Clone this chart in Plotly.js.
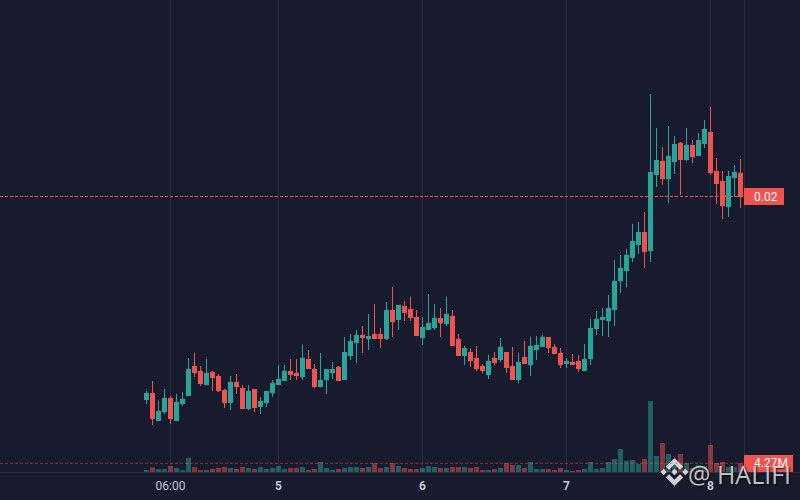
<!DOCTYPE html>
<html>
<head>
<meta charset="utf-8">
<script src="https://cdn.plot.ly/plotly-3.0.1.min.js"></script>
<style>html,body{margin:0;padding:0;background:#181a2d;overflow:hidden}#chart{width:800px;height:500px}
.boxlayer path{shape-rendering:crispEdges;transform:translateX(-0.5px)}</style>
</head>
<body>
<div id="chart"></div>
<script>
// Hourly candles; prices are expressed in ticks of 0.00005
const priceTick = 0.00005;
const firstCandle = Date.UTC(2024, 0, 4, 2);
const openTicks = [197,203,176,185,198,176,193,201,230,225,212,224,220,206,194,214,208,188,207,190,194,204,212,216,225,223,220,237,227,210,217,224,229,217,241,254,261,258,262,262,258,286,277,290,287,279,259,267,269,278,273,280,257,241,244,238,230,222,238,237,244,230,217,239,232,247,250,259,249,243,233,234,235,226,238,268,277,276,287,316,326,339,352,364,346,422,435,418,435,453,437,451,441,453,464,425,415,390,419,423];
const highTicks = [205,215,195,207,200,202,204,238,243,230,237,225,222,207,220,222,211,211,207,199,205,216,231,231,237,237,251,246,232,243,227,234,230,259,262,266,270,282,292,268,294,309,291,295,299,286,279,302,292,288,299,286,262,250,247,250,232,241,244,258,244,249,243,255,259,260,261,259,252,248,238,242,241,252,277,285,288,301,336,341,347,372,374,384,502,468,449,470,460,454,468,456,463,476,489,438,425,425,431,437];
const lowTicks = [192,171,176,182,172,176,190,201,219,210,212,205,204,188,186,202,188,186,184,182,189,199,211,216,216,216,216,228,208,210,202,217,216,217,236,233,243,246,258,248,256,259,266,275,275,260,251,267,266,259,270,251,240,231,229,225,223,217,231,234,223,217,213,233,220,236,249,243,243,228,228,232,224,226,231,261,260,259,270,303,309,334,342,328,334,409,411,393,422,401,435,433,441,448,421,392,377,379,399,388];
const closeTicks = [203,178,185,198,178,194,197,227,224,213,223,219,206,194,214,210,188,205,189,195,205,213,217,225,222,221,238,228,210,216,227,227,216,244,255,261,259,260,258,258,286,275,291,284,279,261,269,273,278,274,282,251,241,248,236,228,226,235,234,249,229,217,234,233,250,251,259,249,243,232,235,232,228,237,268,277,279,288,315,328,341,355,364,345,424,436,418,440,452,437,451,440,456,467,424,413,391,420,424,399.5];
const volumesM = [0.98,2.3,1.47,1.47,2.95,1.96,0.98,6.87,2.45,0.98,0.98,1.47,1.96,2.45,1.96,1.47,2.45,1.96,1.47,2.45,1.47,1.96,2.95,1.47,1.96,1.96,2.45,0.98,1.47,4.91,1.96,0.98,1.47,1.96,2.45,2.45,1.96,2.45,4.42,1.96,2.45,4.42,2.95,1.96,1.47,1.47,1.96,2.95,2.45,1.96,1.96,2.45,2.45,2.45,1.96,2.45,0.98,0.98,1.47,1.96,4.42,3.44,3.44,1.96,4.91,1.47,1.47,1.47,0.98,1.96,0.98,0.49,0.98,1.47,4.91,1.47,1.96,4.91,6.38,11.3,5.4,5.89,3.93,6.38,34.8,7.85,14.2,8.83,4.91,8.83,4.42,1.96,3.44,2.95,13.25,4.42,4.91,2.45,2.45,4.27];
const tickDates = ['2024-01-04 06:00','2024-01-05 00:00','2024-01-06 00:00','2024-01-07 00:00','2024-01-08 00:00','2024-01-08 05:40'];
const tickLabels = ['06:00','<b>5</b>','<b>6</b>','<b>7</b>','<b>8</b>',''];
const lastPriceLabel = '0.02';
const lastVolumeLabel = '4.27M';
const watermarkText = '@ HALIFI';

const upColor = '#26a69a', downColor = '#ef5350', bg = '#181a2d', gridColor = '#2b2d3e';
const times = openTicks.map((_, i) => new Date(firstCandle + i * 3600000).toISOString());
const lastClose = closeTicks[closeTicks.length - 1];
const lastVolume = volumesM[volumesM.length - 1];
const pxX = p => p / 800, pxY = p => (472 - p) / 472;

const logoPath = 'M38.73 53.2 63.3 28.63l24.59 24.59 14.3-14.3L63.3 0 24.42 38.89zM0 63.31l14.3-14.3 14.3 14.3-14.3 14.3zm38.73 10.1L63.3 97.98l24.59-24.59 14.31 14.29-.01.01L63.3 126.61 24.42 87.73l-.02-.02zM97.99 63.31l14.3-14.3 14.31 14.3-14.3 14.3zM77.83 63.3 63.3 48.77 52.56 59.51l-1.24 1.23-2.54 2.54 14.52 14.53 14.53-14.51z';
const logoSvg = `<svg xmlns="http://www.w3.org/2000/svg" viewBox="0 0 126.61 126.61"><path fill="#e6e6e6" d="${logoPath}"/></svg>`;

const traces = [
  { type: 'bar', x: times, y: volumesM, xaxis: 'x', yaxis: 'y', width: 3000000,
    marker: { color: openTicks.map((o, i) => closeTicks[i] >= o ? 'rgba(38,166,154,0.5)' : 'rgba(239,83,80,0.5)'), line: { width: 0 } },
    hoverinfo: 'skip' },
  { type: 'candlestick', x: times, open: openTicks, high: highTicks, low: lowTicks, close: closeTicks,
    xaxis: 'x', yaxis: 'y2', whiskerwidth: 0,
    increasing: { line: { color: upColor, width: 1 }, fillcolor: upColor },
    decreasing: { line: { color: downColor, width: 1 }, fillcolor: downColor },
    hoverinfo: 'skip' }
];

const layout = {
  width: 800, height: 500, margin: { l: 0, r: 0, t: 0, b: 28, pad: 0 },
  paper_bgcolor: bg, plot_bgcolor: bg, showlegend: false, hovermode: false, boxgap: 0.3333, boxgroupgap: 0,
  font: { family: 'Roboto, sans-serif', size: 12, color: '#c4c7d0' },
  xaxis: { type: 'date', range: ['2024-01-03 01:35', '2024-01-08 14:55'], rangeslider: { visible: false },
    tickmode: 'array', tickvals: tickDates, ticktext: tickLabels, showgrid: true, gridcolor: gridColor, gridwidth: 1,
    zeroline: false, showline: true, linecolor: gridColor, linewidth: 1, ticks: 'outside', ticklen: 3, tickcolor: 'rgba(0,0,0,0)',
    tickfont: { family: 'Roboto, sans-serif', size: 12, color: '#c4c7d0' }, fixedrange: true },
  yaxis: { range: [0, 231.7], visible: false, showgrid: false, zeroline: false, fixedrange: true },
  yaxis2: { range: [124, 596], overlaying: 'y', visible: false, showgrid: false, zeroline: false, fixedrange: true },
  shapes: [
    { type: 'line', layer: 'above', xref: 'paper', x0: 0, x1: pxX(744), yref: 'y2', y0: lastClose, y1: lastClose,
      line: { color: downColor, width: 1, dash: '3px,2px' } },
    { type: 'line', layer: 'above', xref: 'paper', x0: 0, x1: pxX(744), yref: 'y', y0: lastVolume, y1: lastVolume,
      line: { color: 'rgba(239,83,80,0.5)', width: 1, dash: '3px,2px' } },
    { type: 'rect', layer: 'above', xref: 'paper', yref: 'paper', x0: pxX(744), x1: pxX(784), y0: pxY(188), y1: pxY(205),
      fillcolor: downColor, line: { width: 0 } },
    { type: 'rect', layer: 'above', xref: 'paper', yref: 'paper', x0: pxX(744), x1: pxX(793), y0: pxY(455), y1: pxY(472),
      fillcolor: downColor, line: { width: 0 } }
  ],
  images: [
    { source: 'data:image/svg+xml;utf8,' + encodeURIComponent(logoSvg), xref: 'paper', yref: 'paper',
      x: pxX(660.5), y: pxY(458), sizex: 28 / 800, sizey: 28 / 472, xanchor: 'left', yanchor: 'top', sizing: 'stretch', opacity: 0.9, layer: 'above' }
  ],
  annotations: [
    { text: lastPriceLabel, xref: 'paper', yref: 'y2', x: pxX(766), y: lastClose, xanchor: 'center', yanchor: 'middle',
      showarrow: false, font: { color: '#fff', size: 12, family: 'Roboto, sans-serif' } },
    { text: lastVolumeLabel, xref: 'paper', yref: 'y', x: pxX(771), y: lastVolume, xanchor: 'center', yanchor: 'middle',
      showarrow: false, font: { color: '#fff', size: 12, family: 'Roboto, sans-serif' } },
    { text: watermarkText, xref: 'paper', yref: 'paper', x: pxX(793), y: pxY(474), xanchor: 'right', yanchor: 'middle',
      showarrow: false, font: { color: 'rgba(225,225,225,0.85)', size: 25, family: 'Open Sans, sans-serif', shadow: '1px 1px 2px #000' } }
  ]
};
Plotly.newPlot('chart', traces, layout, { displayModeBar: false, staticPlot: true });
</script>
</body>
</html>
